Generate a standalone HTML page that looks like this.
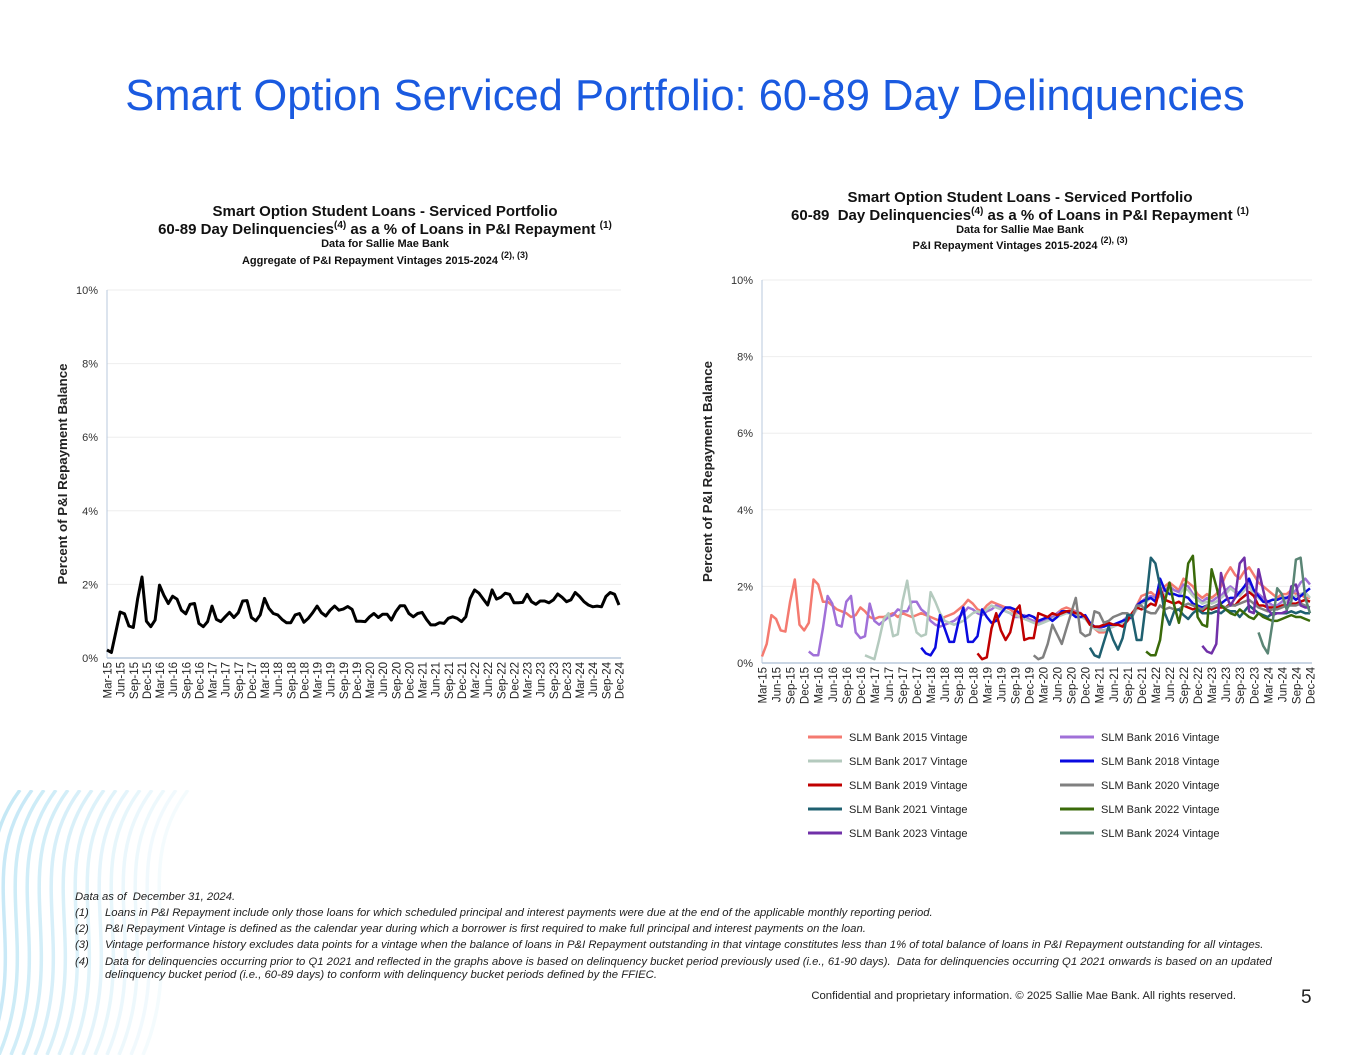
<!DOCTYPE html>
<html><head><meta charset="utf-8"><style>
body{margin:0;width:1365px;height:1055px;background:#fff;overflow:hidden;font-family:"Liberation Sans",Arial,sans-serif;position:relative}
.abs{position:absolute}
#title{left:0;width:1370px;top:72px;text-align:center;font-size:43.5px;color:#1a5ae0}
.ct{text-align:center;font-weight:bold;color:#111}
.ct sup{line-height:0;vertical-align:0;position:relative;top:-6px}
.fn{font-style:italic;font-size:11.3px;color:#222;position:absolute}
</style></head><body>
<svg class="abs" style="left:0;top:790px" width="200" height="265">
<g id="waves" fill="none" stroke="#bfe6f5" stroke-width="3.5" opacity="0.9"></g>
</svg>
<div id="title" class="abs">Smart Option Serviced Portfolio: 60-89 Day Delinquencies</div>

<div class="abs ct" style="left:80px;width:610px;top:203px;font-size:15px;line-height:18px">Smart Option Student Loans - Serviced Portfolio<br>60-89 Day Delinquencies<sup style="font-size:10px">(4)</sup> as a % of Loans in P&amp;I Repayment <sup style="font-size:10px">(1)</sup></div>
<div class="abs ct" style="left:80px;width:610px;top:238px;font-size:11px">Data for Sallie Mae Bank</div>
<div class="abs ct" style="left:80px;width:610px;top:255px;font-size:11px">Aggregate of P&amp;I Repayment Vintages 2015-2024 <sup style="font-size:9px">(2), (3)</sup></div>

<div class="abs ct" style="left:715px;width:610px;top:189px;font-size:15px;line-height:18px">Smart Option Student Loans - Serviced Portfolio<br>60-89&nbsp; Day Delinquencies<sup style="font-size:10px">(4)</sup> as a % of Loans in P&amp;I Repayment <sup style="font-size:10px">(1)</sup></div>
<div class="abs ct" style="left:715px;width:610px;top:224px;font-size:11px">Data for Sallie Mae Bank</div>
<div class="abs ct" style="left:715px;width:610px;top:240px;font-size:11px">P&amp;I Repayment Vintages 2015-2024 <sup style="font-size:9px">(2), (3)</sup></div>

<svg id="left" class="abs" style="left:0;top:0" width="680" height="720"></svg>
<svg id="right" class="abs" style="left:680px;top:0" width="685" height="860"></svg>

<div class="fn" style="left:75px;top:891px">Data as of&nbsp; December 31, 2024.</div>
<div class="fn" style="left:75px;top:907px">(1)</div><div class="fn" style="left:105px;top:907px">Loans in P&amp;I Repayment include only those loans for which scheduled principal and interest payments were due at the end of the applicable monthly reporting period.</div>
<div class="fn" style="left:75px;top:923px">(2)</div><div class="fn" style="left:105px;top:923px">P&amp;I Repayment Vintage is defined as the calendar year during which a borrower is first required to make full principal and interest payments on the loan.</div>
<div class="fn" style="left:75px;top:939px">(3)</div><div class="fn" style="left:105px;top:939px;white-space:nowrap">Vintage performance history excludes data points for a vintage when the balance of loans in P&amp;I Repayment outstanding in that vintage constitutes less than 1% of total balance of loans in P&amp;I Repayment outstanding for all vintages.</div>
<div class="fn" style="left:75px;top:956px">(4)</div><div class="fn" style="left:105px;top:956px;width:1200px;line-height:13px">Data for delinquencies occurring prior to Q1 2021 and reflected in the graphs above is based on delinquency bucket period previously used (i.e., 61-90 days).&nbsp; Data for delinquencies occurring Q1 2021 onwards is based on an updated delinquency bucket period (i.e., 60-89 days) to conform with delinquency bucket periods defined by the FFIEC.</div>
<div class="abs" style="left:700px;width:536px;text-align:right;top:990px;font-size:11.3px;color:#222">Confidential and proprietary information. © 2025 Sallie Mae Bank. All rights reserved.</div>
<div class="abs" style="left:1301px;top:987px;font-size:19px;color:#222">5</div>

<script>
const NS="http://www.w3.org/2000/svg";
const quarterLabels=[];
(function(){const m=["Mar","Jun","Sep","Dec"];for(let y=15;y<=24;y++)for(const mm of m)quarterLabels.push(mm+"-"+y);})();
const yTicks=[0,2,4,6,8,10];
const aggregate=[0.22,0.15,0.7,1.25,1.2,0.87,0.83,1.6,2.2,1.0,
0.85,1.03,1.98,1.7,1.48,1.68,1.6,1.3,1.2,1.46,1.48,0.94,
0.85,0.99,1.41,1.05,0.99,1.12,1.24,1.1,1.23,1.55,1.56,1.1,
1.01,1.17,1.62,1.35,1.21,1.17,1.05,0.96,0.96,1.17,1.21,0.97,
1.08,1.23,1.41,1.23,1.14,1.3,1.41,1.3,1.33,1.4,1.32,1.0,
1.0,0.99,1.12,1.21,1.1,1.19,1.19,1.03,1.26,1.42,1.42,1.21,
1.12,1.21,1.24,1.05,0.9,0.9,0.96,0.94,1.08,1.12,1.08,0.99,
1.12,1.62,1.85,1.76,1.6,1.44,1.85,1.6,1.65,1.76,1.73,1.5,
1.5,1.51,1.73,1.53,1.46,1.55,1.55,1.5,1.58,1.74,1.65,1.53,
1.58,1.78,1.67,1.53,1.44,1.39,1.41,1.39,1.67,1.78,1.73,1.44];
const vintageNames=["SLM Bank 2015 Vintage","SLM Bank 2016 Vintage","SLM Bank 2017 Vintage","SLM Bank 2018 Vintage","SLM Bank 2019 Vintage","SLM Bank 2020 Vintage","SLM Bank 2021 Vintage","SLM Bank 2022 Vintage","SLM Bank 2023 Vintage","SLM Bank 2024 Vintage"];
const vintageStart=[0,10,22,34,46,58,70,82,94,106];
const v2015=[0.17,0.5,1.25,1.15,0.85,0.82,1.6,2.18,1.0,0.85,
1.05,2.18,2.05,1.6,1.6,1.5,1.4,1.35,1.3,1.2,1.25,1.45,
1.35,1.2,1.15,1.2,1.2,1.25,1.3,1.2,1.3,1.25,1.2,1.25,
1.3,1.25,1.2,1.15,1.1,1.2,1.25,1.3,1.4,1.5,1.65,1.55,
1.4,1.35,1.5,1.6,1.55,1.5,1.45,1.4,1.3,1.3,1.2,1.25,
1.2,1.1,1.15,1.2,1.2,1.3,1.4,1.45,1.4,1.35,1.3,1.2,
1.0,0.9,0.8,0.8,0.9,1.0,1.0,1.05,1.1,1.2,1.5,1.75,
1.8,1.85,1.75,1.9,2.0,2.1,2.0,1.9,2.2,2.1,2.0,1.8,
1.7,1.8,1.7,1.8,2.0,2.3,2.5,2.3,2.2,2.4,2.5,2.3,
2.1,2.0,1.9,1.8,1.7,1.8,1.8,1.9,1.8,1.8,1.7,1.7];
const v2016=[0.3,0.2,0.2,0.9,1.75,1.55,1.0,0.95,1.6,1.75,0.8,0.65,
0.7,1.55,1.1,1.0,1.1,1.2,1.25,1.4,1.35,1.35,1.6,1.6,
1.4,1.3,1.1,1.0,0.95,1.0,1.05,1.1,1.2,1.3,1.45,1.4,
1.3,1.25,1.35,1.4,1.5,1.45,1.35,1.3,1.2,1.2,1.25,1.15,
1.1,1.05,1.1,1.15,1.2,1.3,1.35,1.3,1.3,1.35,1.3,1.2,
1.05,0.95,0.9,0.85,0.9,0.95,1.0,1.1,1.2,1.25,1.5,1.6,
1.7,1.75,1.7,1.8,1.9,2.0,1.9,1.85,2.05,2.0,1.8,1.7,
1.6,1.7,1.6,1.7,1.75,1.9,2.0,1.9,1.8,2.0,2.1,1.9,
1.8,1.7,1.6,1.5,1.5,1.6,1.7,1.8,1.9,2.1,2.2,2.05];
const v2017=[0.2,0.15,0.1,0.6,1.15,1.3,0.7,0.75,1.6,2.15,1.3,0.8,
0.7,0.75,1.85,1.6,1.3,1.1,1.05,1.0,1.05,1.1,1.2,1.3,
1.35,1.3,1.4,1.5,1.45,1.4,1.35,1.3,1.25,1.2,1.15,1.1,
1.05,1.0,1.05,1.1,1.15,1.2,1.25,1.3,1.3,1.25,1.2,1.15,
1.0,0.9,0.85,0.85,0.9,0.95,1.0,1.05,1.1,1.2,1.4,1.55,
1.6,1.7,1.65,1.75,1.8,1.9,1.8,1.75,1.95,1.9,1.75,1.65,
1.55,1.6,1.55,1.6,1.7,1.8,1.95,1.85,1.75,1.9,2.0,1.8,
1.7,1.6,1.5,1.45,1.4,1.5,1.6,1.7,1.75,1.8,1.85,1.7];
const v2018=[0.4,0.25,0.2,0.4,1.25,0.9,0.55,0.55,1.1,1.45,0.55,0.55,
0.7,1.4,1.2,1.05,1.1,1.3,1.45,1.45,1.4,1.3,1.2,1.25,
1.2,1.1,1.15,1.2,1.1,1.2,1.35,1.35,1.3,1.2,1.2,1.25,
1.05,0.95,0.95,0.95,1.0,1.0,1.05,1.1,1.15,1.2,1.5,1.6,
1.65,1.7,1.6,2.2,1.9,1.8,1.8,1.75,1.75,1.7,1.55,1.5,
1.45,1.5,1.4,1.5,1.55,1.65,1.7,1.7,1.85,2.0,2.2,1.9,
1.75,1.6,1.6,1.65,1.65,1.7,1.7,1.75,1.65,1.75,1.85,1.95];
const v2019=[0.25,0.1,0.15,0.9,1.3,0.85,0.6,0.8,1.35,1.5,0.6,0.65,
0.65,1.3,1.25,1.2,1.3,1.25,1.3,1.35,1.35,1.3,1.3,1.2,
1.0,0.95,0.95,1.0,1.05,1.0,1.0,0.95,1.1,1.3,1.45,1.4,
1.45,1.55,1.5,1.95,1.65,1.6,1.55,1.6,1.5,1.45,1.4,1.45,
1.35,1.45,1.4,1.45,1.45,1.45,1.55,1.5,1.65,1.75,1.85,1.75,
1.5,1.5,1.45,1.45,1.45,1.5,1.5,1.55,1.55,1.6,1.65,1.6];
const v2020=[0.2,0.1,0.15,0.5,1.0,0.75,0.5,0.9,1.3,1.7,0.8,0.7,
0.75,1.35,1.3,1.05,1.1,1.2,1.25,1.3,1.3,1.2,1.5,1.5,
1.35,1.3,1.3,1.5,1.4,1.45,1.4,1.4,1.5,1.55,1.5,1.45,
1.4,1.5,1.45,1.5,1.5,1.45,1.5,1.5,1.55,1.6,1.65,1.55,
1.45,1.4,1.35,1.4,1.4,1.45,1.5,1.5,1.5,1.55,1.5,1.45];
const v2021=[0.4,0.2,0.15,0.55,0.95,0.6,0.35,0.65,1.25,1.25,0.6,0.6,
1.6,2.75,2.6,2.0,1.3,1.0,1.35,1.4,1.25,1.15,1.3,1.4,
1.3,1.3,1.3,1.35,1.3,1.4,1.35,1.35,1.2,1.35,1.5,1.4,
1.3,1.25,1.2,1.3,1.3,1.3,1.3,1.35,1.3,1.35,1.3,1.3];
const v2022=[0.3,0.2,0.2,0.6,1.6,2.1,1.5,1.05,1.6,2.6,2.8,1.2,
1.0,0.95,2.45,2.0,1.5,1.4,1.3,1.25,1.4,1.3,1.2,1.15,
1.3,1.2,1.15,1.1,1.1,1.15,1.2,1.25,1.2,1.2,1.15,1.1];
const v2023=[0.45,0.3,0.25,0.5,2.35,1.8,1.5,1.7,2.6,2.75,1.35,1.3,
2.45,1.9,1.4,1.25,1.3,1.3,1.35,2.0,2.05,1.5,1.45,1.45];
const v2024=[0.8,0.45,0.25,1.05,1.95,1.8,1.4,1.6,2.7,2.75,1.7,1.3];
const vintageValues=[v2015,v2016,v2017,v2018,v2019,v2020,v2021,v2022,v2023,v2024];
const colors=["#f47a70","#a070d8","#b4cabe","#0a0ae0","#c00000","#808080","#1f6070","#3a6a0a","#7030a8","#5a8575"];

function el(p,tag,at){const e=document.createElementNS(NS,tag);for(const k in at)e.setAttribute(k,at[k]);p.appendChild(e);return e;}

(function(){const g=document.getElementById('waves');
for(let i=0;i<15;i++){const x0=-25+i*12;
const p=el(g,'path',{d:`M${x0+45},0 C${x0-15},80 ${x0+45},160 ${x0},265`,opacity:(1-i/17).toFixed(2)});

}})();

function drawChart(svg,cfg,series){
 const X=i=>cfg.x0+i*(cfg.x1-cfg.x0)/117;
 const Y=v=>cfg.y0-v*(cfg.y0-cfg.y10)/10;
 yTicks.forEach(t=>{
  if(t>0){const g=el(svg,'line',{x1:cfg.x0,x2:cfg.x1+2,y1:Y(t),y2:Y(t),stroke:'#eeeeee','stroke-width':1});
  
  }
  const tx=el(svg,'text',{x:cfg.x0-9,y:Y(t)+4,'text-anchor':'end','font-size':11,fill:'#333'});tx.textContent=t+'%';
  
  
 });
 const ax=el(svg,'line',{x1:cfg.x0,x2:cfg.x0,y1:cfg.y10,y2:cfg.y0,stroke:'#b8c8dc','stroke-width':1});
 
 
 const bx=el(svg,'line',{x1:cfg.x0,x2:cfg.x1+2,y1:cfg.y0,y2:cfg.y0,stroke:'#b8c8dc','stroke-width':1.5});
 
 
 quarterLabels.forEach((l,k)=>{const x=X(k*3)+4.5;
  const t=el(svg,'text',{x:0,y:0,transform:`translate(${x},${cfg.y0+4}) rotate(-90)`,'text-anchor':'end','font-size':11.5,fill:'#222'});t.textContent=l;
  
  });
 const yt=el(svg,'text',{x:0,y:0,transform:`translate(${cfg.ytx},${(cfg.y0+cfg.y10)/2}) rotate(-90)`,'text-anchor':'middle','font-size':13.3,'font-weight':'bold',fill:'#222'});
 yt.textContent='Percent of P&I Repayment  Balance';yt.setAttribute('xml:space','preserve');
 
 
 series.forEach(s=>{const pts=s.vals.map((v,i)=>X(s.start+i).toFixed(1)+','+Y(v).toFixed(1)).join(' ');
  const pl=el(svg,'polyline',{points:pts,fill:'none',stroke:s.color,'stroke-width':s.w,'stroke-linejoin':'round'});
  
  });
}
drawChart(document.getElementById('left'),{x0:107,x1:619,y0:658,y10:290,ytx:67},[{vals:aggregate,start:0,color:'#000',w:3,name:'aggregate-line'}]);
drawChart(document.getElementById('right'),{x0:82,x1:630,y0:663,y10:280,ytx:32},vintageValues.map((v,i)=>({vals:v,start:vintageStart[i],color:colors[i],w:2.5,name:'vintage-'+(2015+i)+'-line'})));

(function(){const svg=document.getElementById('right');
vintageNames.forEach((n,i)=>{const col=i%2,row=Math.floor(i/2);
 const x=col?380:128,y=737+row*24;
 const g=el(svg,'g',{});
 
 
 el(g,'line',{x1:x,x2:x+34,y1:y,y2:y,stroke:colors[i],'stroke-width':3});
 const t=el(g,'text',{x:x+41,y:y+4,'font-size':11,fill:'#222'});t.textContent=n;});})();
</script>
</body></html>
